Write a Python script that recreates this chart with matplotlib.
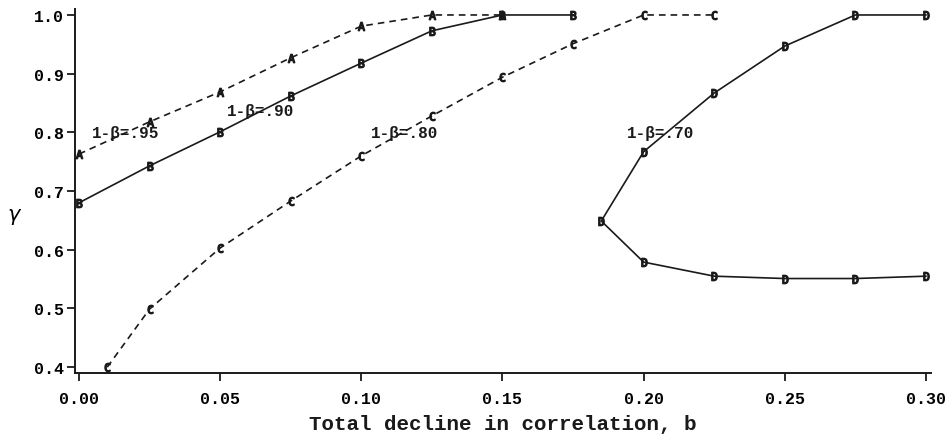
import matplotlib
matplotlib.use("Agg")
import matplotlib.pyplot as plt

# power curves, gamma vs total decline in correlation b
b_95 = [0.0, 0.025, 0.05, 0.075, 0.10, 0.125, 0.15]
g_95 = [0.763, 0.818, 0.869, 0.927, 0.981, 1.0, 1.0]

b_90 = [0.0, 0.025, 0.05, 0.075, 0.10, 0.125, 0.15, 0.175]
g_90 = [0.680, 0.743, 0.801, 0.862, 0.918, 0.973, 1.0, 1.0]

b_80 = [0.01, 0.025, 0.05, 0.075, 0.10, 0.125, 0.15, 0.175, 0.20, 0.225]
g_80 = [0.400, 0.499, 0.603, 0.683, 0.760, 0.828, 0.894, 0.951, 1.0, 1.0]

b_70 = [0.30, 0.275, 0.25, 0.225, 0.20, 0.185, 0.20, 0.225, 0.25, 0.275, 0.30]
g_70 = [1.0, 1.0, 0.947, 0.867, 0.767, 0.649, 0.579, 0.555, 0.551, 0.551, 0.555]

curves = [
    (b_95, g_95, "A", (0, (4, 3)), "1-β=.95", (0.0045, 0.800)),
    (b_90, g_90, "B", "-", "1-β=.90", (0.0525, 0.838)),
    (b_80, g_80, "C", (0, (4, 3)), "1-β=.80", (0.1035, 0.800)),
    (b_70, g_70, "D", "-", "1-β=.70", (0.1940, 0.800)),
]

x_ticks = [0.0, 0.05, 0.10, 0.15, 0.20, 0.25, 0.30]
y_ticks = [0.4, 0.5, 0.6, 0.7, 0.8, 0.9, 1.0]

MONO = "Liberation Mono"

fig = plt.figure(figsize=(9.5, 4.39), dpi=100)
ax = fig.add_axes([0.079, 0.148, 0.901, 0.829])

for xs, ys, mark, ls, label, pos in curves:
    ax.plot(xs, ys, color="#1a1a1a", linestyle=ls, linewidth=1.2, zorder=2)
    ax.plot(xs, ys, linestyle="none", marker=f"$\\mathtt{{{mark}}}$",
            markersize=6, color="#1a1a1a", zorder=3)
    ax.text(pos[0], pos[1], label, fontsize=11.5, fontweight="bold",
            family=MONO, ha="left", va="center", color="#1a1a1a", zorder=4)

ax.set_xlim(-0.0014, 0.3018)
ax.set_ylim(0.39, 1.01)
ax.set_xticks(x_ticks)
ax.set_xticklabels([f"{v:.2f}" for v in x_ticks])
ax.set_yticks(y_ticks)
ax.set_yticklabels([f"{v:.1f}" for v in y_ticks])
for lbl in ax.get_xticklabels() + ax.get_yticklabels():
    lbl.set_family(MONO)
    lbl.set_fontweight("bold")
    lbl.set_fontsize(12)
ax.tick_params(direction="out", length=6, width=1.3, color="#1a1a1a")
ax.tick_params(axis="x", pad=7)
ax.tick_params(axis="y", pad=2)

ax.spines["top"].set_visible(False)
ax.spines["right"].set_visible(False)
for side in ("left", "bottom"):
    ax.spines[side].set_linewidth(1.4)
    ax.spines[side].set_color("#1a1a1a")

ax.set_xlabel("Total decline in correlation, b", family=MONO, fontweight="bold",
              fontsize=15, labelpad=6, color="#1a1a1a")
fig.text(0.015, 0.505, r"$\gamma$", fontsize=15, ha="center", va="center",
         family="DejaVu Serif")

fig.savefig("out.png", dpi=100, facecolor="white")
